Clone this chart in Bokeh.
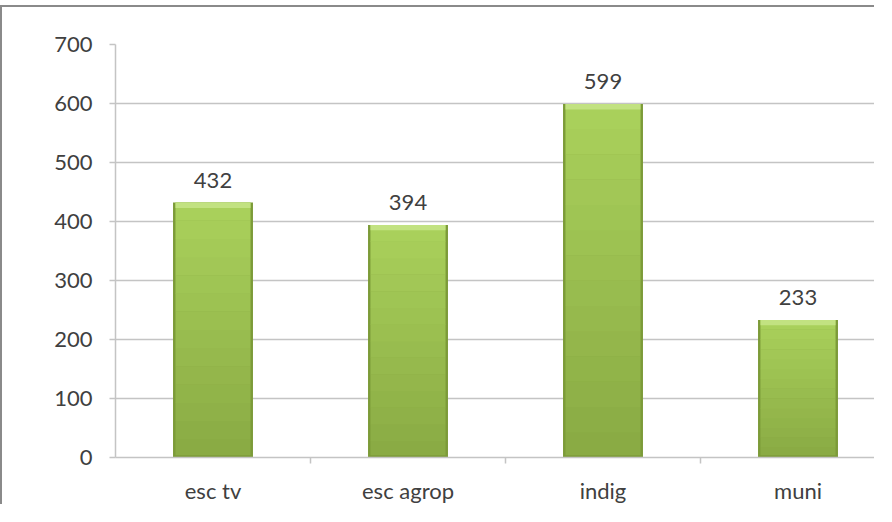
from bokeh.plotting import figure
from bokeh.models import Range1d, FixedTicker
from bokeh.core.properties import value
from bokeh.embed import file_html
from bokeh.resources import INLINE

categories = ["esc tv", "esc agrop", "indig", "muni"]
counts = [432, 394, 599, 233]
y_ticks = [0, 100, 200, 300, 400, 500, 600, 700]

FONT = "Lato"
TXT = "#404040"
GRID = "#c4c4c4"
FRAME = "#8a8a8a"

centers = [i + 0.5 for i in range(len(categories))]

p = figure(width=874, height=499, output_backend="svg", toolbar_location=None,
           x_range=Range1d(0, 761 / 195), y_range=Range1d(0, 700),
           min_border_left=113, min_border_right=0, min_border_top=37, min_border_bottom=49)
p.styles = {"border-left": f"2px solid {FRAME}", "border-top": f"2px solid {FRAME}",
            "margin-top": "5px"}
p.outline_line_color = None
p.background_fill_color = "white"
p.border_fill_color = "white"

# bars: dark edge, vertical gradient body, top bevel
W_OUT, W_IN = 0.41, 0.385
p.vbar(x=centers, top=counts, bottom=0, width=W_OUT, fill_color="#7c9b38", line_color=None)

def mix(c1, c2, t):
    a = [int(c1[i:i + 2], 16) for i in (1, 3, 5)]
    b = [int(c2[i:i + 2], 16) for i in (1, 3, 5)]
    return "#%02x%02x%02x" % tuple(round(a[j] + (b[j] - a[j]) * t) for j in range(3))

N = 14
xs, bots, tops, cols = [], [], [], []
for c, v in zip(centers, counts):
    for k in range(N):
        xs.append(c)
        bots.append(v * k / N + (4 if k == 0 else 0))
        tops.append(v * (k + 1) / N + (0.5 if k < N - 1 else 0))
        cols.append(mix("#8aab44", "#a9d05b", k / (N - 1)))
p.vbar(x=xs, bottom=bots, top=tops, width=W_IN, fill_color=cols, line_color=None)
p.vbar(x=centers, top=counts, bottom=[v - 9 for v in counts], width=W_IN,
       fill_color="#c2e281", line_color=None)

p.text(x=centers, y=counts, text=[str(v) for v in counts], text_align="center",
       text_baseline="bottom", y_offset=-15, text_font=value(FONT),
       text_font_size="22px", text_color=TXT)

# y axis
ya = p.yaxis[0]
ya.ticker = FixedTicker(ticks=y_ticks)
ya.axis_line_color = GRID
ya.axis_line_width = 1.5
ya.major_tick_line_color = GRID
ya.major_tick_line_width = 1.5
ya.major_tick_out = 6
ya.major_tick_in = 0
ya.minor_tick_line_color = None
ya.major_label_standoff = 17
ya.major_label_text_font = FONT
ya.major_label_text_font_size = "22px"
ya.major_label_text_color = TXT

# x axis
xa = p.xaxis[0]
xa.ticker = FixedTicker(ticks=centers, minor_ticks=[1, 2, 3])
xa.major_label_overrides = {c: n for c, n in zip(centers, categories)}
xa.axis_line_color = GRID
xa.axis_line_width = 1.5
xa.major_tick_line_color = None
xa.major_tick_out = 0
xa.major_tick_in = 0
xa.minor_tick_line_color = GRID
xa.minor_tick_line_width = 1.5
xa.minor_tick_out = 6
xa.minor_tick_in = 0
xa.major_label_standoff = 13
xa.major_label_text_font = FONT
xa.major_label_text_font_size = "22px"
xa.major_label_text_color = TXT

p.xgrid.grid_line_color = None
p.ygrid.ticker = FixedTicker(ticks=y_ticks)
p.ygrid.grid_line_color = GRID
p.ygrid.grid_line_width = 1.5

open("out.html", "w").write(file_html(p, INLINE))
